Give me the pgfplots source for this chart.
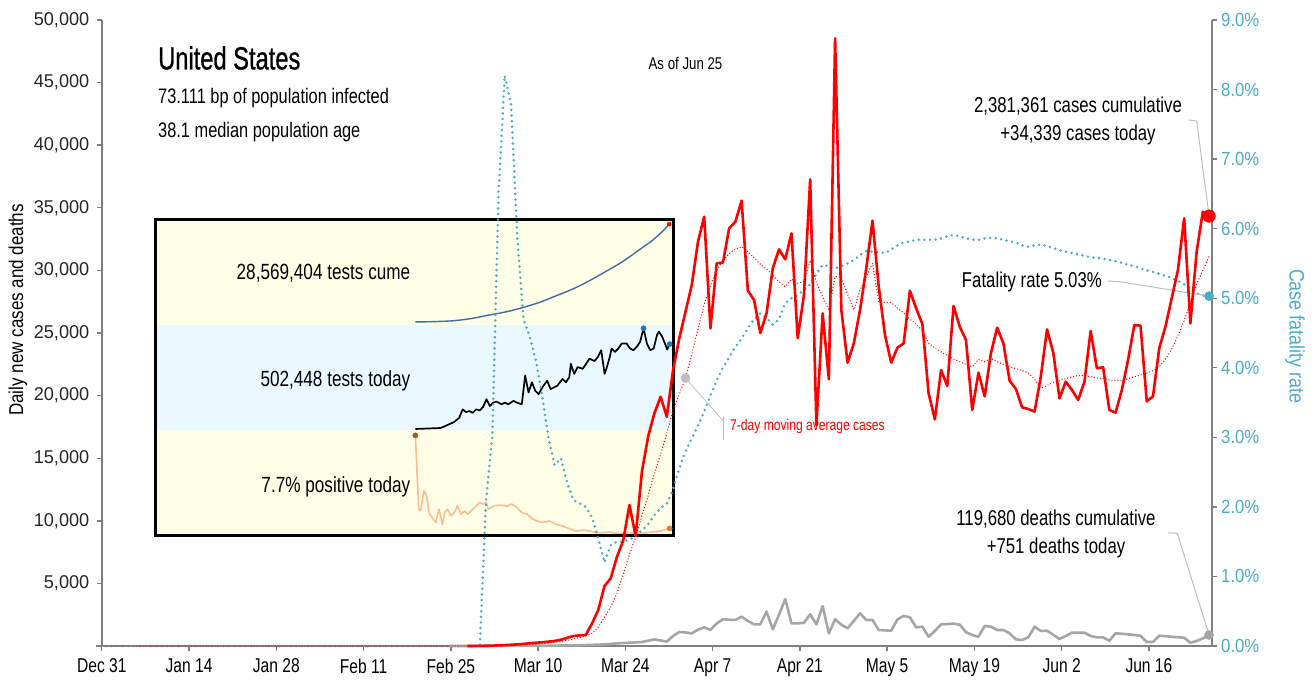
\documentclass[border=0pt]{standalone}
\usepackage{pgfplots}
\pgfplotsset{compat=1.18}
\usepackage{fontspec}
\setmainfont{Liberation Sans}[FakeStretch=0.78]
\newfontfamily\tickfont{Liberation Sans}[FakeStretch=0.98]
\newfontfamily\rtickfont{Liberation Sans}[FakeStretch=0.88]
\newfontfamily\labfont{Liberation Sans}[FakeStretch=0.85]
\newfontfamily\titlefont{Liberation Sans}[FakeStretch=0.74, FakeBold=0.8]
\newcommand\fs[1]{\fontsize{#1}{#1}\selectfont}
\definecolor{cfr}{RGB}{75,172,198}
\definecolor{dgray}{RGB}{166,166,166}
\definecolor{axgray}{RGB}{128,128,128}
\definecolor{lead}{RGB}{191,191,191}
\definecolor{bandy}{RGB}{255,255,231}
\definecolor{bandb}{RGB}{234,249,255}
\definecolor{cume}{RGB}{68,106,160}
\definecolor{posr}{RGB}{248,190,145}
\definecolor{tdot}{RGB}{31,119,190}
\definecolor{pdot}{RGB}{170,85,30}
\definecolor{podot}{RGB}{230,120,40}
\tikzset{
  bluedot/.style={line width=2.8pt, color=cfr, dash pattern=on 0pt off 5.6pt, line cap=round, line join=round},
  reddot/.style={line width=1.4pt, color=red, dash pattern=on 0pt off 3pt, line cap=round, line join=round},
}
\begin{document}
\begin{tikzpicture}
\useasboundingbox (-101.8pt,-37pt) rectangle (1212.2pt,646pt);
% ---------------- inset ----------------
\begin{axis}[at={(53.2pt,111pt)}, anchor=south west, scale only axis,
  width=518pt, height=315pt,
  xmin=-115.7, xmax=114.5, ymin=0, ymax=315, xtick=\empty, ytick=\empty,
  axis line style={line width=3pt, black}, axis on top, clip=false]
\addplot[draw=none, fill=bandy] coordinates {(-115.7,0)(114.5,0)(114.5,105)(-115.7,105)} -- cycle;
\addplot[draw=none, fill=bandb] coordinates {(-115.7,105)(114.5,105)(114.5,210)(-115.7,210)} -- cycle;
\addplot[draw=none, fill=bandy] coordinates {(-115.7,210)(114.5,210)(114.5,315)(-115.7,315)} -- cycle;
% cumulative tests
\addplot[cume, line width=1.4pt, smooth] coordinates {
(0,213.2)(5,213.2)(10,213.5)(17.2,214.3)(25,216.5)(32.2,219.7)(40,223)(47.2,227.1)(55,232.5)
(62.2,238.9)(70,246)(77.2,254.1)(85,264)(92.3,273.7)(101.2,287.9)(105,294)(110,304)(112.8,310.9)};
% tests today
\addplot[black, line width=1.7pt, line join=round] coordinates {
(0,106.0)(11.3,107.0)(17.3,113.1)(19.5,117.2)(21.0,125.6)(22.5,122.9)(24.0,123.9)(25.5,122.2)
(27.0,125.6)(28.6,124.6)(30.1,128.0)(31.6,135.7)(33.1,129.0)(34.6,132.4)(36.1,133.4)(38.3,130.7)
(39.8,132.4)(41.3,130.7)(43.6,134.1)(45.1,132.4)(47.3,130.7)(48.8,159.4)(50.3,142.5)(51.8,152.7)
(53.3,144.2)(54.8,140.8)(56.4,147.6)(58.6,154.3)(60.1,145.9)(61.6,147.6)(63.1,149.3)(65.4,156.0)
(66.9,152.7)(68.4,157.7)(69.1,171.2)(70.6,161.1)(72.1,167.9)(74.4,166.2)(75.9,171.2)(77.4,176.3)
(79.6,173.9)(81.1,178.0)(82.6,184.8)(84.1,161.1)(84.9,166.2)(86.4,178.0)(87.2,186.5)(88.7,183.1)
(90.2,186.5)(91.7,191.5)(93.9,191.5)(95.4,186.5)(96.9,184.8)(98.4,188.2)(99.9,193.2)(101.4,206.7)
(102.9,191.5)(104.4,184.8)(105.9,186.5)(107.4,200.0)(108.2,203.4)(109.7,198.3)(111.2,189.8)
(111.9,185.4)(113.0,190.9)};
% positive rate
\addplot[posr, line width=1.6pt, line join=round] coordinates {
(0,99.6)(1.5,25.9)(2.3,24.2)(3.8,44.5)(5.0,39.4)(6.0,22.5)(7.5,17.4)(9.0,12.4)(10.5,25.9)(12.0,10.7)
(13.1,22.5)(14.3,25.9)(15.8,19.1)(17.3,22.5)(18.8,29.3)(20.3,20.8)(21.8,24.2)(23.3,20.8)(26.3,27.6)
(28.6,32.6)(30.1,30.9)(31.6,32.6)(32.3,25.9)(35.3,29.3)(38.3,29.9)(40.6,28.6)(42.8,31.0)(45.1,27.6)
(47.3,22.5)(49.6,20.8)(51.8,16.4)(54.1,14.0)(56.4,12.4)(59.4,14.0)(62.4,10.7)(65.4,9.0)(68.4,6.3)
(71.4,3.9)(74.4,4.9)(77.4,3.9)(81.9,2.2)(86.4,2.9)(90.9,1.5)(95.4,2.2)(99.9,1.5)(104.4,2.9)
(108.9,3.9)(113.0,6.6)};
\addplot[only marks, mark=*, mark size=2pt, red] coordinates {(112.8,310.9)};
\addplot[only marks, mark=*, mark size=2.6pt, tdot] coordinates {(101.4,206.7)(113.0,190.9)};
\addplot[only marks, mark=*, mark size=2.6pt, pdot] coordinates {(0,99.6)};
\addplot[only marks, mark=*, mark size=2.6pt, podot] coordinates {(113.0,6.6)};
\end{axis}
% ---------------- right axis: case fatality rate ----------------
\begin{axis}[at={(0pt,0pt)}, anchor=south west, scale only axis,
  width=1109.9pt, height=626pt,
  xmin=-0.65, xmax=177.42, ymin=0, ymax=9, clip=false,
  hide x axis, axis y line*=right,
  axis line style={axgray, line width=1.6pt, -},
  ytick={0,1,2,3,4,5,6,7,8,9},
  yticklabels={0.0\%,1.0\%,2.0\%,3.0\%,4.0\%,5.0\%,6.0\%,7.0\%,8.0\%,9.0\%},
  tick style={axgray, line width=1.4pt}, major tick length=5pt, tick align=outside,
  yticklabel style={font={\rtickfont\fs{19}}, text=cfr, xshift=1pt}]
\addplot[bluedot] coordinates {
(0,0)(60,0)(61,2.1)(62,3.0)(63,6.5)(64,8.2)(65,7.8)(66,5.9)(67,4.7)(68,4.45)(69,4.1)(70,3.6)
(71,3.0)(72,2.6)(73,2.7)(74,2.35)(75,2.1)(76,2.05)(77,2.0)(78,1.85)(79,1.55)(80,1.2)(81,1.45)
(82,1.5)(83,1.5)(84,1.52)(85,1.6)(86,1.66)(87,1.75)(88,1.88)(89,1.98)(90,2.05)(91,2.25)(92,2.55)
(93,2.8)(94,2.98)(95,3.17)(96,3.37)(97,3.6)(98,3.82)(99,4.0)(100,4.15)(101,4.3)(102,4.42)
(103,4.57)(104,4.7)(105,4.78)(106,4.72)(107,4.62)(108,4.7)(109,4.93)(110,5.0)(111,5.05)(112,5.12)
(113,5.2)(114,5.35)(115,5.48)(116,5.46)(117,5.43)(118,5.46)(119,5.5)(120,5.55)(121,5.62)(122,5.68)
(123,5.67)(124,5.66)(125,5.65)(126,5.7)(127,5.76)(128,5.8)(129,5.82)(130,5.84)(131,5.84)(132,5.84)
(133,5.84)(134,5.86)(135,5.89)(136,5.91)(137,5.89)(138,5.86)(139,5.84)(140,5.84)(141,5.86)(142,5.87)
(143,5.86)(144,5.84)(145,5.82)(146,5.8)(147,5.76)(148,5.74)(149,5.76)(150,5.77)(151,5.75)(152,5.72)
(153,5.69)(154,5.67)(155,5.65)(156,5.63)(157,5.61)(158,5.59)(159,5.58)(160,5.57)(161,5.55)(162,5.53)
(163,5.51)(164,5.48)(165,5.46)(166,5.43)(167,5.4)(168,5.38)(169,5.35)(170,5.32)(171,5.29)(172,5.25)
(173,5.2)(174,5.13)(175,5.07)(176,5.04)(177,5.03)};
\draw[lead, line width=1pt] (axis cs:160.83,5.248) -- (axis cs:162.71,5.237) -- (axis cs:177,5.03);
\addplot[only marks, mark=*, mark size=4.6pt, cfr] coordinates {(177,5.03)};
\end{axis}
% ---------------- left axis: daily cases and deaths ----------------
\begin{axis}[at={(0pt,0pt)}, anchor=south west, scale only axis,
  width=1109.9pt, height=626pt,
  xmin=-0.65, xmax=177.42, ymin=0, ymax=50000, clip=false,
  axis x line*=bottom, axis y line*=left,
  axis line style={axgray, line width=1.6pt, -},
  x axis line style={shorten <=-6pt},
  xtick={-0.65,13.35,27.35,41.35,55.35,69.35,83.35,97.35,111.35,125.35,139.35,153.35,167.35},
  xticklabels={Dec 31,Jan 14,Jan 28,Feb 11,Feb 25,Mar 10,Mar 24,Apr 7,Apr 21,May 5,May 19,Jun 2,Jun 16},
  ytick={0,5000,10000,15000,20000,25000,30000,35000,40000,45000,50000},
  yticklabels={{},{5,000},{10,000},{15,000},{20,000},{25,000},{30,000},{35,000},{40,000},{45,000},{50,000}},
  scaled y ticks=false,
  tick style={axgray, line width=1.4pt}, major tick length=5pt, tick align=outside,
  yticklabel style={font={\tickfont\fs{18.5}}, text=black!85, xshift=-4pt},
  xticklabel style={font={\fs{20}}, text=black, yshift=-4pt}]
% deaths
\addplot[dgray, line width=2.6pt, line join=round] coordinates {
(55,0)(60,0)(62,5)(64,8)(66,10)(68,15)(70,20)(72,30)(74,45)(76,60)(78,90)(80,130)(81,170)(82,210)
(83,240)(84,260)(85,290)(86,320)(87,420)(88,530)(89,440)(90,350)(91,800)(92,1120)(93,1080)(94,1010)
(95,1300)(96,1490)(97,1280)(98,1800)(99,2130)(100,2100)(101,2080)(102,2340)(103,2000)(104,1730)
(105,1730)(106,2740)(107,1330)(108,2500)(109,3750)(110,1810)(111,1810)(112,1850)(113,2530)(114,1730)
(115,3190)(116,1010)(117,2130)(118,1700)(119,1410)(120,2000)(121,2610)(122,2080)(123,2080)(124,1280)
(125,1250)(126,1220)(127,2130)(128,2400)(129,2290)(130,1490)(131,1540)(132,740)(133,1200)(134,1730)
(135,1750)(136,1780)(137,1700)(138,1100)(139,880)(140,740)(141,1600)(142,1540)(143,1280)(144,1280)
(145,1010)(146,530)(147,480)(148,690)(149,1540)(150,1200)(151,1220)(152,900)(153,560)(154,800)
(155,1060)(156,1060)(157,1060)(158,800)(159,690)(160,690)(161,420)(162,1010)(163,980)(164,930)
(165,880)(166,820)(167,320)(168,330)(169,820)(170,780)(171,740)(172,700)(173,660)(174,260)(175,400)
(176,600)(177,880)};
% 7-day moving average
\addplot[reddot] coordinates {
(5,0)(62,5)(63,20)(64,30)(65,45)(66,60)(67,80)(68,110)(69,140)(70,180)(71,230)(72,290)(73,360)
(74,450)(75,560)(76,680)(77,820)(78,1000)(79,1500)(80,2300)(81,3100)(82,4200)(83,5700)(84,7300)
(85,8700)(86,10400)(87,12000)(88,13800)(89,15300)(90,17000)(91,18850)(92,20100)(93,21400)(94,23300)
(95,25300)(96,27300)(97,28800)(98,30000)(99,30800)(100,31350)(101,31700)(102,31900)(103,31500)
(104,31000)(105,30500)(106,30100)(107,29630)(108,29100)(109,28700)(110,29300)(111,28980)(112,29100)
(113,30800)(114,29000)(115,27900)(116,26840)(117,29500)(118,29450)(119,28100)(120,26840)(121,28430)
(122,29500)(123,30570)(124,27500)(125,27450)(126,27420)(127,27000)(128,26600)(129,26100)(130,25700)
(131,25200)(132,24200)(133,23800)(134,23500)(135,23200)(136,22900)(137,22700)(138,22500)(139,22300)
(140,22900)(141,22700)(142,22980)(143,22700)(144,22500)(145,22310)(146,22150)(147,22000)(148,21800)
(149,21300)(150,20600)(151,20800)(152,21050)(153,21200)(154,21350)(155,21500)(156,21600)(157,21600)
(158,21500)(159,21400)(160,21380)(161,21250)(162,21200)(163,21200)(164,21350)(165,21500)(166,21640)
(167,21800)(168,22000)(169,22300)(170,22900)(171,23700)(172,24800)(173,26000)(174,27400)(175,28900)
(176,30000)(177,31100)};
% daily cases
\addplot[red, line width=2.6pt, line join=round] coordinates {
(58,0)(59,5)(60,10)(61,20)(62,30)(63,50)(64,70)(65,100)(66,130)(67,170)(68,220)(69,260)(70,300)
(71,350)(72,400)(73,500)(74,650)(75,800)(76,850)(77,880)(78,1800)(79,2870)(80,4790)(81,5400)
(82,7130)(83,8410)(84,11260)(85,8790)(86,13920)(87,16720)(88,18580)(89,19910)(90,18310)(91,22040)
(92,24580)(93,26700)(94,28830)(95,32290)(96,34290)(97,25380)(98,30570)(99,30620)(100,33360)
(101,33890)(102,35570)(103,28380)(104,27640)(105,25000)(106,26570)(107,30160)(108,31680)(109,30880)
(110,32960)(111,24580)(112,28040)(113,37270)(114,17650)(115,26570)(116,21300)(117,48540)(118,26840)
(119,22630)(120,24170)(121,26840)(122,30170)(123,33970)(124,28680)(125,24840)(126,22630)(127,23830)
(128,24170)(129,28380)(130,26970)(131,25720)(132,20180)(133,18100)(134,22040)(135,20770)(136,27160)
(137,25500)(138,24440)(139,18850)(140,21830)(141,19940)(142,23400)(143,25430)(144,24170)(145,21190)
(146,20530)(147,19060)(148,18930)(149,18720)(150,21510)(151,25290)(152,23430)(153,19780)(154,21110)
(155,20450)(156,19650)(157,21110)(158,25160)(159,22180)(160,22260)(161,18850)(162,18640)(163,20450)
(164,22840)(165,25640)(166,25580)(167,19540)(168,19940)(169,23780)(170,25510)(171,27770)(172,30030)
(173,34160)(174,25770)(175,31490)(176,34690)(177,34339)};
% leaders
\draw[lead, line width=1pt] (axis cs:173.66,42012) -- (axis cs:175.01,41932) -- (axis cs:177,34339);
\draw[lead, line width=1pt] (axis cs:170.45,9049) -- (axis cs:171.9,9001) -- (axis cs:177,880);
\draw[lead, line width=0.8pt] (axis cs:93,21400) -- (axis cs:99.06,17979);
\draw[lead, line width=1pt] (axis cs:99.06,18314) -- (axis cs:99.06,16470);
\addplot[only marks, mark=*, mark size=6.3pt, red] coordinates {(177,34339)};
\addplot[only marks, mark=*, mark size=4.6pt, dgray] coordinates {(177,880)};
\addplot[only marks, mark=*, mark size=4.6pt, lead] coordinates {(93,21400)};
\end{axis}
% ---------------- texts ----------------
\node[anchor=west, inner sep=0pt, font={\titlefont\fs{32}}] at (56.2pt,588pt) {United States};
\node[anchor=west, inner sep=0pt, font=\fs{21}] at (56.2pt,548pt) {73.111 bp of population infected};
\node[anchor=west, inner sep=0pt, font=\fs{21}] at (56.2pt,514pt) {38.1 median population age};
\node[inner sep=0pt, font=\fs{17}] at (583.7pt,583pt) {As of Jun 25};
\node[anchor=east, inner sep=0pt, font=\fs{22}] at (308.7pt,372.5pt) {28,569,404 tests cume};
\node[anchor=east, inner sep=0pt, font=\fs{22}] at (308.7pt,265.4pt) {502,448 tests today};
\node[anchor=east, inner sep=0pt, font=\fs{22}] at (308.7pt,158.9pt) {7.7\% positive today};
\node[align=center, inner sep=0pt, font=\fs{21.5}] at (976.2pt,525pt) {2,381,361 cases cumulative\\[6pt]+34,339 cases today};
\node[anchor=east, inner sep=0pt, font=\fs{21.5}] at (1000.2pt,364pt) {Fatality rate 5.03\%};
\node[align=center, inner sep=0pt, font=\fs{21.5}] at (954.2pt,112pt) {119,680 deaths cumulative\\[6pt]+751 deaths today};
\node[anchor=west, inner sep=0pt, font=\fs{15.5}, text=red] at (628.2pt,220pt) {7-day moving average cases};
\node[rotate=90, inner sep=0pt, font={\labfont\fs{20}}] at (-83.8pt,336pt) {Daily new cases and deaths};
\node[rotate=-90, inner sep=0pt, font={\labfont\fs{21}}, text=cfr] at (1193.2pt,310pt) {Case fatality rate};
\end{tikzpicture}
\end{document}
